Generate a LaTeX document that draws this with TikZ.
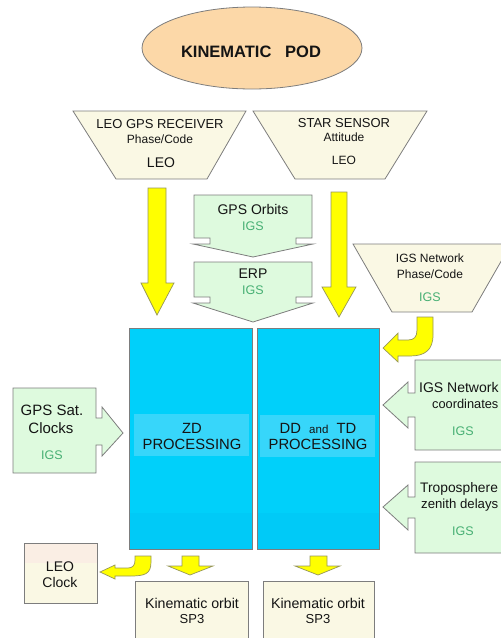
\documentclass[tikz,border=0pt]{standalone}
\usepackage{fontspec}
\setmainfont{Liberation Sans}
\usetikzlibrary{shapes.geometric}
\definecolor{peach}{RGB}{252,216,168}
\definecolor{cream}{RGB}{250,248,228}
\definecolor{creamtop}{RGB}{250,238,228}
\definecolor{mint}{RGB}{222,250,222}
\definecolor{igsgreen}{RGB}{70,175,115}
\definecolor{cyanbox}{RGB}{0,208,250}
\definecolor{cyanlow}{RGB}{0,202,247}
\definecolor{cyanband}{RGB}{55,214,250}
\definecolor{yel}{RGB}{255,255,0}
\definecolor{yelb}{RGB}{150,150,90}
\definecolor{edge}{RGB}{125,125,125}
\definecolor{ink}{RGB}{20,20,20}
\begin{document}
\begin{tikzpicture}[x=1pt,y=-1pt,
  outl/.style={draw=edge, line width=0.8pt, line join=miter},
  fat/.style={fill=yel, draw=yelb, line width=0.7pt, line join=miter},
  greenbox/.style={outl, fill=mint},
  trap/.style={outl, fill=cream},
  bluebox/.style={draw=edge, line width=0.9pt},
  tx/.style={inner sep=0pt, anchor=base, text=ink},
  fa/.style={font=\fontsize{13}{15}\selectfont},
  fb/.style={font=\fontsize{12}{14}\selectfont},
  fc/.style={font=\fontsize{13}{15}\selectfont},
  fd/.style={font=\fontsize{14}{16}\selectfont},
  igs/.style={tx, text=igsgreen, font=\fontsize{12.5}{14}\selectfont}]
\useasboundingbox (0,0) rectangle (501,638);
\clip (0,0) rectangle (501,638);

% title ellipse
\node[ellipse, outl, fill=peach, minimum width=220pt, minimum height=82pt] (pod) at (252,48) {};
\node[tx, font=\bfseries\fontsize{16.5}{18}\selectfont] (podt) at (251,57) {KINEMATIC\ \ \ POD};

% trapezoids
\draw[trap] (73,111) -- (246,111) -- (207,179) -- (116,179) -- cycle;
\node[tx, fa] (t1a) at (160,128) {LEO GPS RECEIVER};
\node[tx, fb] (t1b) at (160,143) {Phase/Code};
\node[tx, font=\fontsize{14}{16}\selectfont] (t1c) at (161,167) {LEO};

\draw[trap] (253,111) -- (427,111) -- (385,179) -- (295,179) -- cycle;
\node[tx, fa] (t2a) at (344,127) {STAR SENSOR};
\node[tx, fb] (t2b) at (344,141) {Attitude};
\node[tx, fb] (t2c) at (344,164) {LEO};

\draw[trap] (353,244) -- (511,244) -- (472,312) -- (392,312) -- cycle;
\node[tx, fb] (t3a) at (430,262) {IGS Network};
\node[tx, fb] (t3b) at (430,278) {Phase/Code};
\node[igs] (t3c) at (430,301) {IGS};

% big yellow arrows
\draw[fat] (148,188) -- (166,188) -- (166,283) -- (174,283) -- (157,315) -- (141,283) -- (148,283) -- cycle;
\draw[fat] (331,192) -- (347,192) -- (347,287) -- (356,287) -- (339,317) -- (322,287) -- (331,287) -- cycle;

% GPS orbits / ERP
\draw[greenbox] (194,195) -- (312,195) -- (312,238) -- (296,238) -- (296,244) -- (313,244) -- (253,257) -- (193,244) -- (210,244) -- (210,238) -- (194,238) -- cycle;
\node[tx, fd] (orb) at (253,214) {GPS Orbits};
\node[igs] (orbi) at (253,230) {IGS};
\draw[greenbox] (194,262) -- (312,262) -- (312,297) -- (296,297) -- (296,303) -- (313,303) -- (253,322) -- (193,303) -- (210,303) -- (210,297) -- (194,297) -- cycle;
\node[tx, fd] (erp) at (253,278) {ERP};
\node[igs] (erpi) at (253,294) {IGS};

% processing boxes
\fill[cyanbox] (129,328) rectangle (252,513);
\fill[cyanlow] (129,513) rectangle (252,549);
\fill[cyanband] (134,414) rectangle (249,456);
\draw[bluebox] (129,328) rectangle (252,549);
\node[tx, font=\fontsize{14.8}{17}\selectfont] (zd1) at (192,433) {ZD};
\node[tx, font=\fontsize{14.8}{17}\selectfont] (zd2) at (192,449) {PROCESSING};

\fill[cyanbox] (257,328) rectangle (379,513);
\fill[cyanlow] (257,513) rectangle (379,549);
\fill[cyanband] (260,415) rectangle (375,457);
\draw[bluebox] (257,328) rectangle (379,549);
\node[tx, font=\fontsize{14.8}{17}\selectfont] (dd1) at (318,433) {DD\ \ {\fontsize{11.5}{13}\selectfont and}\ \ TD};
\node[tx, font=\fontsize{14.8}{17}\selectfont] (dd2) at (318,449) {PROCESSING};

% curved arrow from IGS network phase/code
\draw[fat] (417,317) -- (433,317) -- (433,335) .. controls (433,350) and (425,356) .. (410,356) -- (398,356) -- (398,362) -- (383,348) -- (398,333) -- (398,340) -- (408,340) .. controls (414,340) and (417,337) .. (417,330) -- cycle;

% GPS sat clocks
\draw[greenbox] (13,388) -- (96,388) -- (96,418) -- (102,418) -- (102,407) -- (123,433) -- (102,456) -- (102,445) -- (96,445) -- (96,473) -- (13,473) -- cycle;
\node[tx, font=\fontsize{15}{17}\selectfont] (gc1) at (52,415) {GPS Sat.};
\node[tx, font=\fontsize{15}{17}\selectfont] (gc2) at (51,433) {Clocks};
\node[igs] (gc3) at (52,459) {IGS};

% IGS network coordinates
\draw[greenbox] (520,360) -- (415,360) -- (415,393) -- (408,393) -- (408,382) -- (383,405) -- (408,428) -- (408,417) -- (415,417) -- (415,450) -- (520,450) -- cycle;
\node[tx, anchor=base west, font=\fontsize{14}{16}\selectfont] (nc1) at (419,392) {IGS Network};
\node[tx, anchor=base west, font=\fontsize{12.8}{15}\selectfont] (nc2) at (432,408) {coordinates};
\node[igs] (nc3) at (463,435) {IGS};

% troposphere
\draw[greenbox] (520,462) -- (415,462) -- (415,497) -- (408,497) -- (408,485) -- (383,507) -- (408,530) -- (408,518) -- (415,518) -- (415,553) -- (520,553) -- cycle;
\node[tx, anchor=base west, font=\fontsize{13.8}{16}\selectfont] (tr1) at (420,492) {Troposphere};
\node[tx, anchor=base west, font=\fontsize{13.2}{15}\selectfont] (tr2) at (421,508) {zenith delays};
\node[igs] (tr3) at (463,535) {IGS};

% outputs
\fill[cream] (24,543) rectangle (97,603);
\fill[creamtop] (24,543) rectangle (97,563);
\draw[outl] (24,543) rectangle (97,603);
\node[tx, fd] (lc1) at (60,571) {LEO};
\node[tx, fd] (lc2) at (60,587) {Clock};

\draw[fat] (135,556) -- (151,556) -- (151,562) .. controls (151,574) and (145,576) .. (130,576) -- (115,576) -- (115,579) -- (100,572) -- (115,565) -- (115,568) -- (128,568) .. controls (133,568) and (135,565) .. (135,560) -- cycle;

\draw[fat] (182,556) -- (199,556) -- (199,566) -- (213,566) -- (190,575) -- (168,566) -- (182,566) -- cycle;
\draw[fat] (310,556) -- (327,556) -- (327,566) -- (340,566) -- (318,575) -- (295,566) -- (310,566) -- cycle;

\draw[outl, fill=cream] (135,581) rectangle (248,650);
\node[tx, font=\fontsize{14.2}{16}\selectfont] (ko1) at (192,608) {Kinematic orbit};
\node[tx, fc] (ko1b) at (192,623) {SP3};
\draw[outl, fill=cream] (263,581) rectangle (374,650);
\node[tx, font=\fontsize{14.2}{16}\selectfont] (ko2) at (318,608) {Kinematic orbit};
\node[tx, fc] (ko2b) at (318,623) {SP3};
\end{tikzpicture}
\end{document}
